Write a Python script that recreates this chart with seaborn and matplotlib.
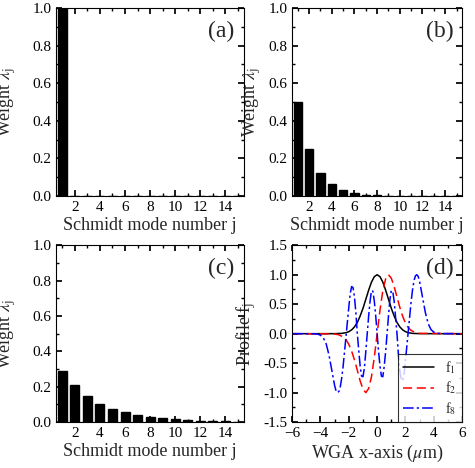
import numpy as np
import pandas as pd
import matplotlib
matplotlib.use("Agg")
import matplotlib.pyplot as plt
import seaborn as sns
from matplotlib.ticker import MultipleLocator

sns.set_theme(style="ticks")
plt.rcParams['font.family'] = ['Liberation Serif', 'DejaVu Serif']
plt.rcParams['mathtext.fontset'] = 'stix'

modes = list(range(1, 16))
weights_a = [1.0] + [0.0] * 14
weights_b = [0.5, 0.25, 0.125, 0.0625, 0.031, 0.016, 0.008, 0.004, 0.002, 0.001, 0.0005, 0.0002, 0.0001, 0.0, 0.0]
weights_c = [0.29, 0.21, 0.15, 0.105, 0.075, 0.055, 0.04, 0.03, 0.022, 0.016, 0.012, 0.009, 0.006, 0.004, 0.003]

# positive-half samples of profiles (f1 even, f2 & f8 odd)
x1_pos = [0, 0.2, 0.4, 0.6, 0.8, 1.0, 1.2, 1.4, 1.6, 1.8, 2.0, 2.2, 2.5, 3.0, 6.0]
f1_pos = [1, 0.967, 0.874, 0.738, 0.583, 0.43, 0.30, 0.19, 0.115, 0.065, 0.034, 0.017, 0.005, 0.0005, 0]
x2_pos = [0, 0.2, 0.4, 0.6, 0.8, 1.0, 1.2, 1.4, 1.6, 1.8, 2.0, 2.2, 2.4, 2.7, 3.0, 6.0]
f2_pos = [0, 0.40, 0.73, 0.93, 1.0, 0.94, 0.80, 0.62, 0.446, 0.295, 0.18, 0.10, 0.055, 0.019, 0.005, 0]
x8_pos = [0, 0.1, 0.2, 0.3, 0.4, 0.5, 0.6, 0.7, 0.8, 0.9, 1.0, 1.1, 1.2, 1.3, 1.4, 1.5, 1.6, 1.7, 1.8,
          1.9, 2.0, 2.1, 2.2, 2.3, 2.4, 2.5, 2.6, 2.7, 2.8, 2.9, 3.0, 3.2, 3.4, 3.6, 3.8, 4.0, 4.2, 4.5, 6.0]
f8_pos = [0, -0.3, -0.55, -0.72, -0.73, -0.55, -0.3, 0, 0.3, 0.58, 0.73, 0.72, 0.55, 0.28, 0, -0.35, -0.62,
          -0.78, -0.8, -0.68, -0.45, -0.2, 0.05, 0.3, 0.55, 0.75, 0.9, 0.98, 1.0, 0.97, 0.88, 0.62, 0.36,
          0.17, 0.07, 0.025, 0.008, 0.001, 0]

def full(xp, yp, odd):
    xs = [-v for v in xp[:0:-1]] + list(xp)
    ys = [(-v if odd else v) for v in yp[:0:-1]] + list(yp)
    return xs, ys

fig = plt.figure(figsize=(4.75, 4.68), dpi=100)
L1, R1, L2, R2 = 0.118, 0.514, 0.615, 0.973
B1, T1, B2, T2 = 0.581, 0.983, 0.098, 0.476
pos = {'a': [L1, B1, R1 - L1, T1 - B1], 'b': [L2, B1, R2 - L2, T1 - B1],
       'c': [L1, B2, R1 - L1, T2 - B2], 'd': [L2, B2, R2 - L2, T2 - B2]}

def style(ax):
    ax.tick_params(direction='in', which='both', top=True, right=True, labelsize=11, colors='black')
    ax.tick_params(which='major', length=4)
    ax.tick_params(which='minor', length=2)
    for s in ax.spines.values():
        s.set_color('black'); s.set_linewidth(0.8)

for key, w in zip('abc', [weights_a, weights_b, weights_c]):
    ax = fig.add_axes(pos[key])
    df = pd.DataFrame({'j': modes, 'w': w})
    sns.barplot(data=df, x='j', y='w', native_scale=True, color='black', width=0.72,
                saturation=1, edgecolor='black', ax=ax)
    ax.set_xlim(0.5, 15.5); ax.set_ylim(0, 1.0)
    ax.set_xticks(range(2, 15, 2)); ax.xaxis.set_minor_locator(MultipleLocator(1))
    ax.set_yticks(np.arange(0, 1.01, 0.2)); ax.yaxis.set_minor_locator(MultipleLocator(0.1))
    ax.set_yticklabels([f'{v:.1f}' for v in np.arange(0, 1.01, 0.2)])
    ax.set_xlabel('Schmidt mode number j', fontsize=13, labelpad=2)
    ax.set_ylabel(r'Weight $\lambda_{\rm j}$', fontsize=13)
    ax.yaxis.set_label_coords(-0.2 if key in 'ac' else -0.17, 0.5)
    ax.text(0.95, 0.93, f'({key})', transform=ax.transAxes, ha='right', va='top', fontsize=17)
    style(ax)

ax = fig.add_axes(pos['d'])
for (xp, yp, odd), col, ls, lab in [((x1_pos, f1_pos, False), 'black', '-', r'f$_1$'),
                                    ((x2_pos, f2_pos, True), 'red', (0, (6, 3)), r'f$_2$'),
                                    ((x8_pos, f8_pos, True), 'blue', (0, (7, 2, 1.5, 2)), r'f$_8$')]:
    xs, ys = full(xp, yp, odd)
    sns.lineplot(x=xs, y=ys, color=col, linestyle=ls, lw=1.1, label=lab, ax=ax, sort=False)
ax.set_xlim(-6, 6); ax.set_ylim(-1.5, 1.5)
ax.set_xticks(range(-6, 7, 2)); ax.xaxis.set_minor_locator(MultipleLocator(1))
ax.set_yticks(np.arange(-1.5, 1.51, 0.5)); ax.yaxis.set_minor_locator(MultipleLocator(0.25))
ax.set_yticklabels([f'{v:.1f}' for v in np.arange(-1.5, 1.51, 0.5)])
ax.set_xlabel(r'WGA x-axis ($\mu$m)', fontsize=13, labelpad=2)
ax.set_ylabel(r'Profile f$_{\rm j}$', fontsize=13)
ax.yaxis.set_label_coords(-0.2, 0.5)
ax.text(0.95, 0.93, '(d)', transform=ax.transAxes, ha='right', va='top', fontsize=17)
leg = ax.legend(loc='lower right', fontsize=10, frameon=True, fancybox=False, borderaxespad=0,
                handlelength=2.2, labelspacing=0.25, borderpad=0.4)
leg.get_frame().set_edgecolor('black'); leg.get_frame().set_linewidth(0.8)
style(ax)

fig.savefig('out.png', dpi=100)
